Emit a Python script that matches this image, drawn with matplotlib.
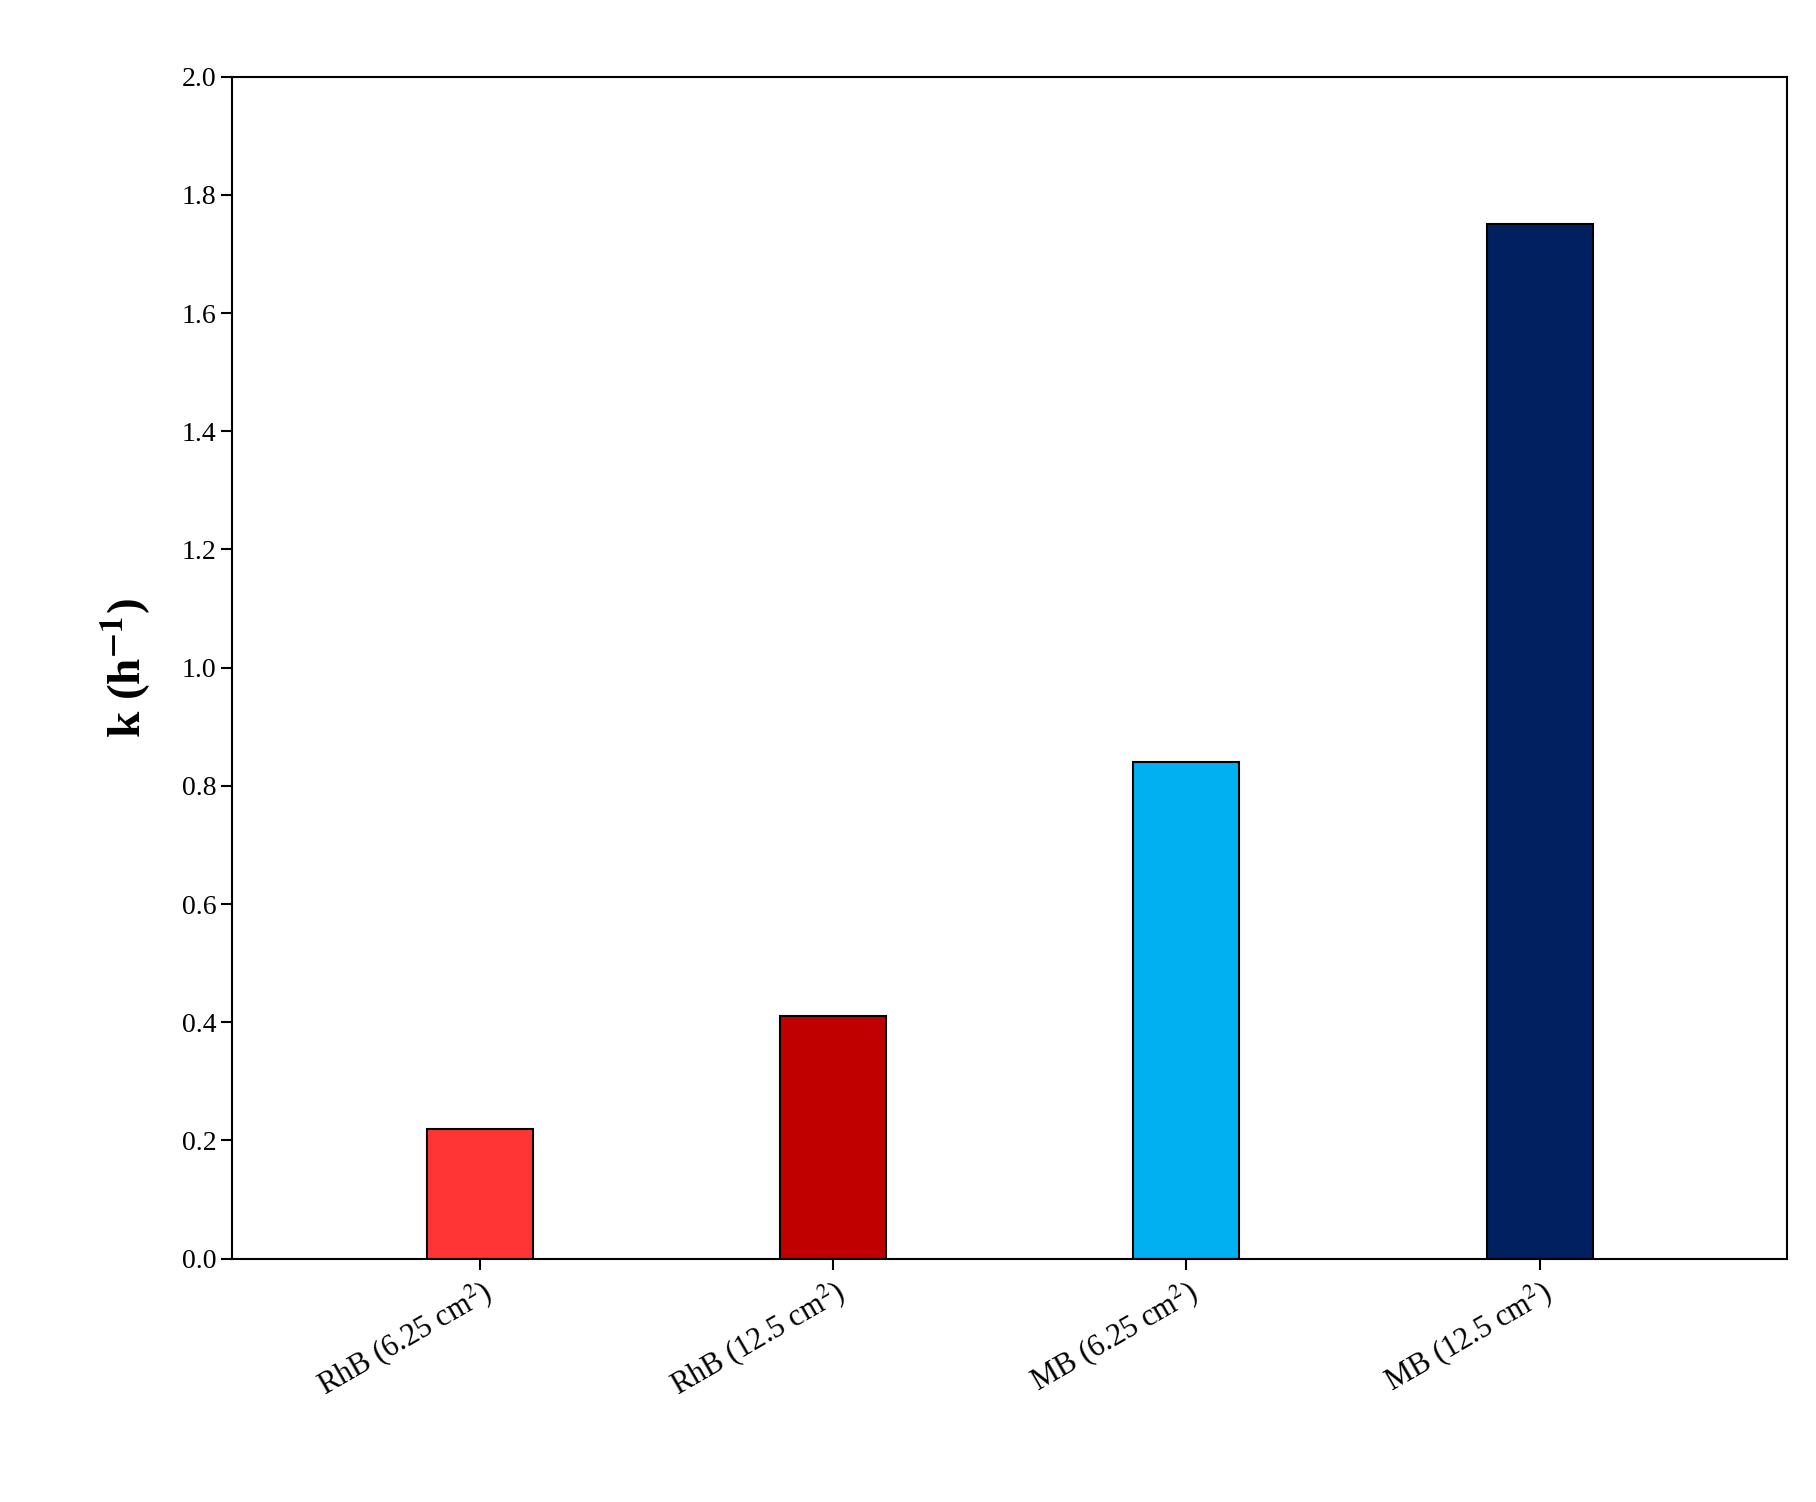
import matplotlib
matplotlib.use("Agg")
import matplotlib.pyplot as plt

categories = ["RhB (6.25 cm$^2$)", "RhB (12.5 cm$^2$)", "MB (6.25 cm$^2$)", "MB (12.5 cm$^2$)"]
k_values = [0.22, 0.41, 0.84, 1.75]
bar_colors = ["#FF3535", "#C00000", "#00B0F0", "#002060"]

plt.rcParams["font.family"] = ["Liberation Serif", "DejaVu Serif"]
plt.rcParams["mathtext.fontset"] = "stix"

fig = plt.figure(figsize=(18.16, 15.02), dpi=100)
ax = fig.add_axes([0.128, 0.162, 0.856, 0.787])

x = list(range(len(categories)))
ax.bar(x, k_values, width=0.30, color=bar_colors, edgecolor="black", linewidth=1.5)

ax.set_xlim(-0.70, 3.70)
ax.set_ylim(0, 2.0)
ax.set_yticks([i * 0.2 for i in range(11)])
ax.set_yticklabels([f"{i * 0.2:.1f}" for i in range(11)], fontsize=20)
ax.set_xticks(x)
ax.set_xticklabels(categories, rotation=30, ha="right", rotation_mode="anchor", fontsize=22)
ax.tick_params(axis="both", direction="out", length=8, width=1.5, top=False, right=False)
for s in ax.spines.values():
    s.set_linewidth(1.5)

ax.set_ylabel("k (h$^{\\mathbf{-1}}$)", fontsize=34, fontweight="bold", labelpad=20)

fig.savefig("out.png", dpi=100)
